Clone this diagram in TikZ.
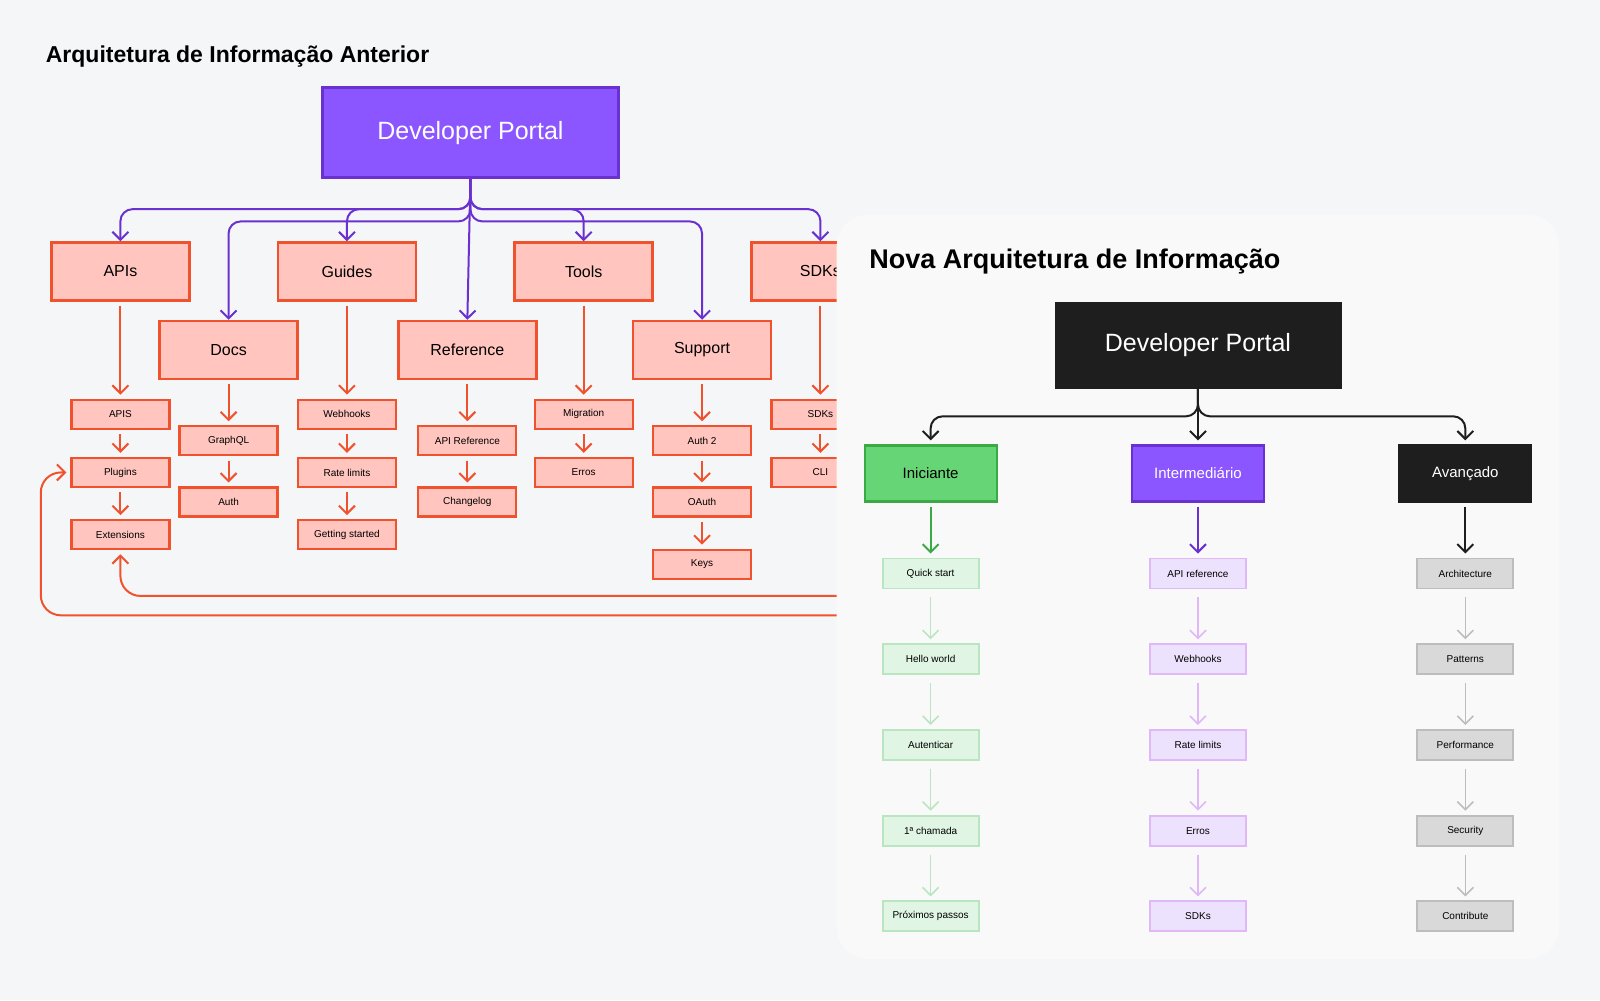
\documentclass[tikz,border=0pt]{standalone}
\usepackage{fontspec}
\setmainfont{Liberation Sans}
\usetikzlibrary{arrows.meta}
\definecolor{bg}{HTML}{F5F6F8}
\definecolor{panel}{HTML}{F9F9F9}
\definecolor{purp}{HTML}{8B55FF}
\definecolor{purpd}{HTML}{6A30D0}
\definecolor{sal}{HTML}{FFC5BE}
\definecolor{org}{HTML}{F0522D}
\definecolor{blk}{HTML}{1E1E1E}
\definecolor{grn}{HTML}{66D575}
\definecolor{grnd}{HTML}{3BAA45}
\definecolor{lg}{HTML}{E0F5E3}
\definecolor{lgd}{HTML}{B9E6C0}
\definecolor{lp}{HTML}{EDE2FD}
\definecolor{lpd}{HTML}{E0B8F8}
\definecolor{gr}{HTML}{D9D9D9}
\definecolor{grd}{HTML}{BDBDBD}
\tikzset{
 x=0.5102pt,y=-0.5102pt,
 big/.style={draw=org,fill=sal,line width=1.2pt,minimum width=69pt,minimum height=29pt,inner sep=0pt,font=\fontsize{8}{9}\selectfont},
 sm/.style={draw=org,fill=sal,line width=1.1pt,minimum width=49pt,minimum height=14.5pt,inner sep=0pt,font=\fontsize{5}{6}\selectfont},
 oa/.style={draw=org,line width=1pt,-{Straight Barb[length=4pt,width=8pt]}},
 pa/.style={draw=purpd,line width=1pt,rounded corners=6pt,-{Straight Barb[length=4pt,width=8pt]}},
 ka/.style={draw=blk,line width=1pt,rounded corners=6pt,-{Straight Barb[length=4pt,width=8pt]}},
 lvl/.style={line width=1.1pt,minimum width=66pt,minimum height=28pt,inner sep=0pt,font=\fontsize{7.5}{9}\selectfont},
 ch/.style={line width=0.9pt,minimum width=48pt,minimum height=15pt,inner sep=0pt,font=\fontsize{5}{6}\selectfont},
 fa/.style={line width=0.8pt,-{Straight Barb[length=4pt,width=8pt]}},
}
\begin{document}
\begin{tikzpicture}
\fill[bg] (0,0) rectangle (1568,980);
\useasboundingbox (0,0) rectangle (1568,980);
\node[anchor=west,font=\fontsize{11.5}{13}\selectfont\bfseries] at (38,55) {Arquitetura de Informação Anterior};
\node[draw=purpd,fill=purp,line width=1.2pt,minimum width=148pt,minimum height=45pt,text=white,font=\fontsize{12.5}{14}\selectfont] (dp) at (461,130) {Developer Portal};
% level boxes
\node[big] (apis) at (118,266) {APIs};
\node[big] (guides) at (340,266) {Guides};
\node[big] (tools) at (572,266) {Tools};
\node[big] (sdk) at (804,266) {SDKs};
\node[big] (docs) at (224,343) {Docs};
\node[big] (ref) at (458,343) {Reference};
\node[big] (sup) at (688,343) {Support};
% purple connectors
\coordinate (j) at (461,178);
\foreach \t/\xx in {apis/118,guides/340,tools/572,sdk/804}
  \draw[pa] (dp.south) |- (\xx,205) -- (\t.north);
\foreach \t/\xx in {docs/224,sup/688}
  \draw[pa] (dp.south) |- (\xx,217) -- (\t.north);
\draw[pa] (dp.south) -- (ref.north);
% small boxes
\node[sm] (a1) at (118,406) {APIS};
\node[sm] (a2) at (118,463) {Plugins};
\node[sm] (a3) at (118,524) {Extensions};
\node[sm] (d1) at (224,432) {GraphQL};
\node[sm] (d2) at (224,492) {Auth};
\node[sm] (g1) at (340,406) {Webhooks};
\node[sm] (g2) at (340,463) {Rate limits};
\node[sm] (g3) at (340,524) {Getting started};
\node[sm] (r1) at (458,432) {API Reference};
\node[sm] (r2) at (458,492) {Changelog};
\node[sm] (t1) at (572,406) {Migration};
\node[sm] (t2) at (572,463) {Erros};
\node[sm] (s1) at (688,432) {Auth 2};
\node[sm] (s2) at (688,492) {OAuth};
\node[sm] (s3) at (688,553) {Keys};
\node[sm] (k1) at (804,406) {SDKs};
\node[sm] (k2) at (804,463) {CLI};
\foreach \a/\b in {apis/a1,a1/a2,a2/a3,docs/d1,d1/d2,guides/g1,g1/g2,g2/g3,ref/r1,r1/r2,tools/t1,t1/t2,sup/s1,s1/s2,s2/s3,sdk/k1,k1/k2}
  \draw[oa] (\a.south) ++(0,4) -- ([yshift=2pt]\b.north);
\coordinate (e1) at (840,584);
\coordinate (e2) at (840,603);
\draw[oa,rounded corners=10pt] (e1) -| ([yshift=-2pt]a3.south);
\draw[oa,rounded corners=10pt] (e2) -| (40,463) -- ([xshift=-2pt]a2.west);
% panel
\fill[panel,rounded corners=16pt] (820,210) rectangle (1528,940);
\node[anchor=west,font=\fontsize{13.5}{15}\selectfont\bfseries] at (845,256) {Nova Arquitetura de Informação};
\node[fill=blk,draw=blk,minimum width=143pt,minimum height=43pt,text=white,font=\fontsize{12.5}{14}\selectfont] (ndp) at (1174,338) {Developer Portal};
\node[lvl,draw=grnd,fill=grn] (ini) at (912,464) {Iniciante};
\node[lvl,draw=purpd,fill=purp,text=white] (int) at (1174,464) {Intermediário};
\node[lvl,draw=blk,fill=blk,text=white] (ava) at (1436,464) {Avançado};
\draw[ka] (ndp.south) |- (912,408) -- ([yshift=2pt]ini.north);
\draw[ka] (ndp.south) |- (1436,408) -- ([yshift=2pt]ava.north);
\draw[ka] (ndp.south) -- ([yshift=2pt]int.north);
\foreach \p/\fc/\dc/\ac/\ta/\tb/\tc/\td/\te/\xx in {ini/lg/lgd/grnd/Quick start/Hello world/Autenticar/1ª chamada/Próximos passos/912,
  int/lp/lpd/purpd/API reference/Webhooks/Rate limits/Erros/SDKs/1174,
  ava/gr/grd/blk/Architecture/Patterns/Performance/Security/Contribute/1436}{
  \node[ch,fill=\fc,draw=\dc] (\p1) at (\xx,562) {\ta};
  \node[ch,fill=\fc,draw=\dc] (\p2) at (\xx,646) {\tb};
  \node[ch,fill=\fc,draw=\dc] (\p3) at (\xx,730) {\tc};
  \node[ch,fill=\fc,draw=\dc] (\p4) at (\xx,814) {\td};
  \node[ch,fill=\fc,draw=\dc] (\p5) at (\xx,898) {\te};
  \draw[fa,draw=\ac,line width=1pt] (\p.south) ++(0,4) -- ([yshift=2pt]\p1.north);
  \foreach \a/\b in {1/2,2/3,3/4,4/5}
    \draw[fa,draw=\dc] ([yshift=-4pt]\p\a.south) -- ([yshift=2pt]\p\b.north);
}
\end{tikzpicture}
\end{document}
